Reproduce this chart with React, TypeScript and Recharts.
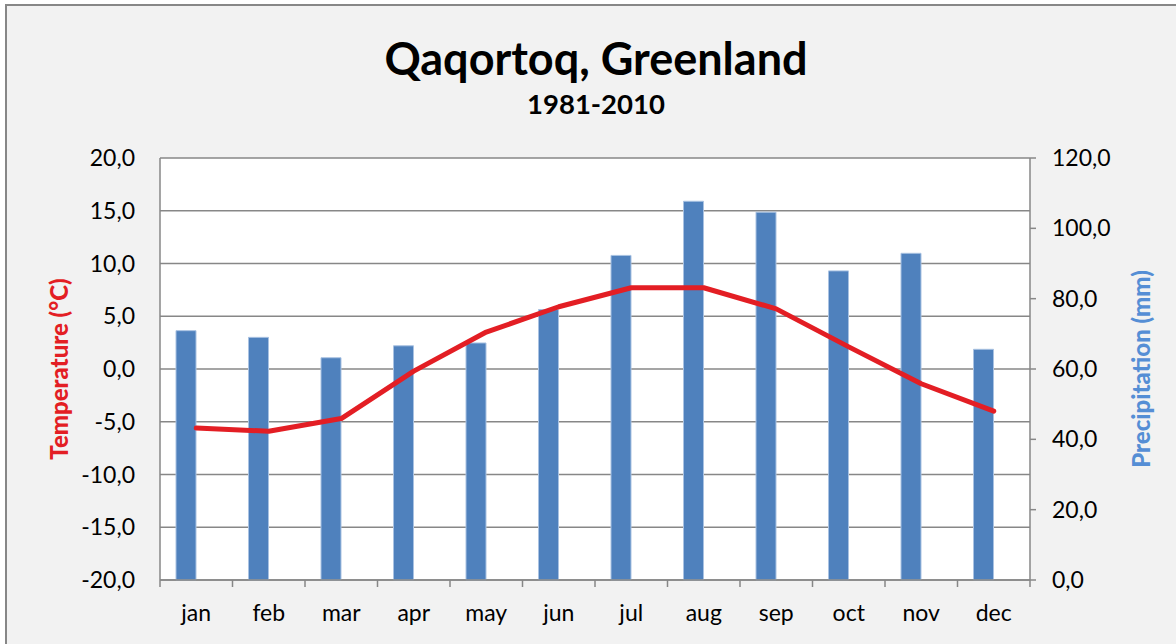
import {
  ComposedChart,
  Bar,
  Line,
  XAxis,
  YAxis,
  CartesianGrid,
} from "recharts";

const MONTHS = ["jan", "feb", "mar", "apr", "may", "jun", "jul", "aug", "sep", "oct", "nov", "dec"];
const PRECIPITATION = [70.9, 69.0, 63.2, 66.6, 67.4, 76.9, 92.3, 107.7, 104.6, 87.9, 92.9, 65.6];
const TEMPERATURE = [-5.6, -5.9, -4.7, -0.2, 3.5, 5.9, 7.7, 7.7, 5.7, 2.1, -1.4, -4.0];
const TEMP_TICKS = [-20, -15, -10, -5, 0, 5, 10, 15, 20];
const PRECIP_TICKS = [0, 20, 40, 60, 80, 100, 120];

const FONT = "Lato, 'Open Sans', sans-serif";
const AXIS_GREY = "#878787";
const BAR_BLUE = "#4f81bd";
const LINE_RED = "#e31e24";
const TITLE_BLUE = "#558ed5";

const data = MONTHS.map((m, i) => ({
  month: m,
  precip: PRECIPITATION[i],
  temp: TEMPERATURE[i],
}));

const fmt = (v: number) => v.toFixed(1).replace(".", ",");

function MonthTick(props: any) {
  const { x, y, payload } = props;
  const half = payload.offset ?? 0;
  const last = payload.index === MONTHS.length - 1;
  return (
    <g>
      <line x1={x - half} y1={y} x2={x - half} y2={y + 7} stroke={AXIS_GREY} strokeWidth={1.5} />
      {last && (
        <line x1={x + half} y1={y} x2={x + half} y2={y + 7} stroke={AXIS_GREY} strokeWidth={1.5} />
      )}
      <text x={x} y={y + 41} textAnchor="middle" fontSize={23} fontFamily={FONT} fill="#000">
        {payload.value}
      </text>
    </g>
  );
}

export default function App() {
  return (
    <div
      style={{
        position: "absolute",
        left: 0,
        top: 0,
        width: 1176,
        height: 644,
        background: "#fff",
        overflow: "hidden",
      }}
    >
      <div
        style={{
          position: "absolute",
          left: 5,
          top: 4,
          width: 1300,
          height: 800,
          background: "#f2f2f2",
          border: `2px solid ${AXIS_GREY}`,
        }}
      />
      <div style={{ position: "absolute", left: 0, top: 0 }}>
        <ComposedChart
          width={1176}
          height={644}
          data={data}
          margin={{ top: 158, right: 36, bottom: 14, left: 58 }}
          barSize={20}
          barGap={0}
        >
          <CartesianGrid
            yAxisId="temp"
            vertical={false}
            stroke={AXIS_GREY}
            strokeWidth={1.5}
            fill="#fff"
            fillOpacity={1}
          />
          <XAxis
            dataKey="month"
            height={50}
            axisLine={{ stroke: AXIS_GREY, strokeWidth: 1.5 }}
            tickLine={false}
            tickSize={0}
            tickMargin={0}
            interval={0}
            tick={<MonthTick />}
          />
          <YAxis
            yAxisId="temp"
            orientation="left"
            width={102}
            domain={[-20, 20]}
            ticks={TEMP_TICKS}
            interval={0}
            tickFormatter={fmt}
            axisLine={{ stroke: AXIS_GREY, strokeWidth: 1.5 }}
            tickLine={false}
            tickSize={0}
            tickMargin={25}
            tick={{ fill: "#000", fontSize: 23, fontFamily: FONT }}
          />
          <YAxis
            yAxisId="precip"
            orientation="right"
            width={110}
            domain={[0, 120]}
            ticks={PRECIP_TICKS}
            interval={0}
            tickFormatter={fmt}
            axisLine={{ stroke: AXIS_GREY, strokeWidth: 1.5 }}
            tickLine={{ stroke: AXIS_GREY, strokeWidth: 1.5 }}
            tickSize={6}
            tickMargin={16}
            tick={{ fill: "#000", fontSize: 23, fontFamily: FONT }}
          />
          <Bar
            yAxisId="precip"
            dataKey="precip"
            fill={BAR_BLUE}
            stroke="#a9c2e2"
            strokeWidth={1}
            isAnimationActive={false}
          />
          <Bar yAxisId="precip" dataKey="spare" fill="none" isAnimationActive={false} />
          <Line
            yAxisId="temp"
            dataKey="temp"
            type="linear"
            stroke={LINE_RED}
            strokeWidth={5}
            strokeLinecap="round"
            strokeLinejoin="round"
            dot={false}
            activeDot={false}
            isAnimationActive={false}
          />
        </ComposedChart>
      </div>
      <svg
        width={1176}
        height={644}
        style={{ position: "absolute", left: 0, top: 0, pointerEvents: "none" }}
      >
        <g fontFamily={FONT} fontWeight="bold">
          <text x={596} y={75} textAnchor="middle" fontSize={45}>
            Qaqortoq, Greenland
          </text>
          <text x={596} y={114} textAnchor="middle" fontSize={27.5}>
            1981-2010
          </text>
        </g>
        <g fontFamily={FONT} fontWeight={900} fontSize={24}>
          <text
            x={58}
            y={369}
            transform="rotate(-90, 58, 369)"
            textAnchor="middle"
            dominantBaseline="central"
            fill={LINE_RED}
          >
            Temperature (°C)
          </text>
          <text
            x={1140}
            y={369}
            transform="rotate(-90, 1140, 369)"
            textAnchor="middle"
            dominantBaseline="central"
            fill={TITLE_BLUE}
          >
            Precipitation (mm)
          </text>
        </g>
      </svg>
    </div>
  );
}
